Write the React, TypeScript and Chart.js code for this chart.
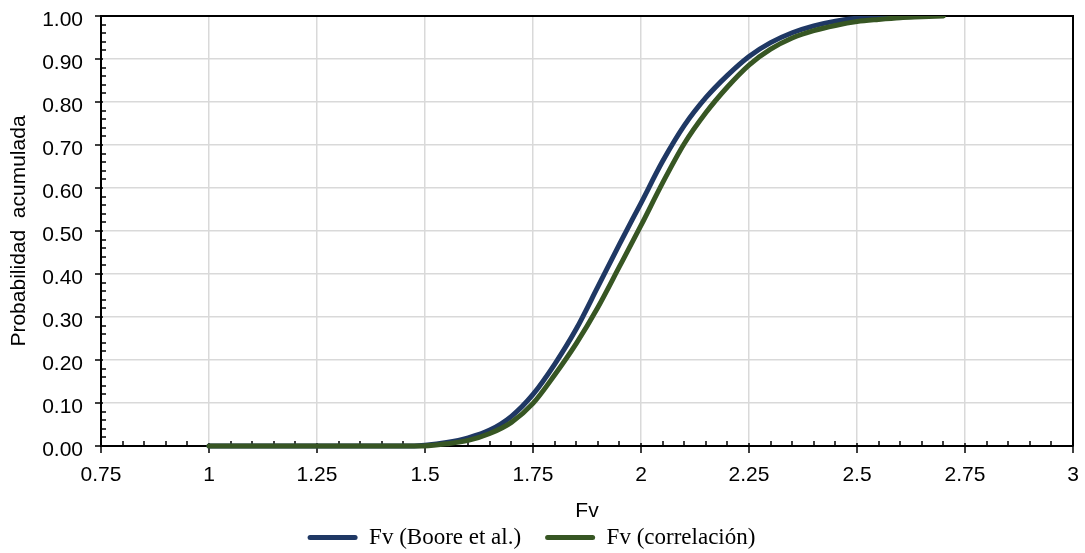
import React, { useEffect, useRef } from 'react';
import { Chart, registerables } from 'chart.js';

Chart.register(...registerables);

// ---- Data ----
const fvBoore = [1.0, 1.45, 1.5, 1.55, 1.6, 1.65, 1.7, 1.75, 1.8, 1.85, 1.9, 1.95, 2.0, 2.05, 2.1, 2.15, 2.2, 2.25, 2.3, 2.35, 2.4, 2.45, 2.5, 2.55, 2.58];
const probBoore = [0, 0, 0.002, 0.008, 0.019, 0.037, 0.069, 0.12, 0.19, 0.272, 0.37, 0.469, 0.565, 0.662, 0.745, 0.81, 0.862, 0.906, 0.938, 0.961, 0.977, 0.988, 0.995, 0.999, 1.0];

const fvCorrel = [1.0, 1.48, 1.52, 1.55, 1.6, 1.65, 1.7, 1.75, 1.8, 1.85, 1.9, 1.95, 2.0, 2.05, 2.1, 2.15, 2.2, 2.25, 2.3, 2.35, 2.4, 2.45, 2.5, 2.55, 2.6, 2.65, 2.7];
const probCorrel = [0, 0, 0.002, 0.005, 0.013, 0.029, 0.055, 0.099, 0.165, 0.238, 0.322, 0.417, 0.513, 0.612, 0.703, 0.775, 0.835, 0.886, 0.923, 0.949, 0.966, 0.978, 0.987, 0.992, 0.996, 0.998, 1.0];

const seriesLabels = ['Fv (Boore et al.)', 'Fv (correlación)'];

const xTickValues = [0.75, 1, 1.25, 1.5, 1.75, 2, 2.25, 2.5, 2.75, 3];
const xTickLabels = ['0.75', '1', '1.25', '1.5', '1.75', '2', '2.25', '2.5', '2.75', '3'];
const yTickValues = [0, 0.1, 0.2, 0.3, 0.4, 0.5, 0.6, 0.7, 0.8, 0.9, 1.0];
const yTickLabels = ['0.00', '0.10', '0.20', '0.30', '0.40', '0.50', '0.60', '0.70', '0.80', '0.90', '1.00'];

const xTitle = 'Fv';
const yTitle = 'Probabilidad  acumulada';

// ---- Styles ----
const SANS = "'Liberation Sans', Arial, sans-serif";
const SERIF = "'Liberation Serif', 'Times New Roman', serif";
const BLUE = '#1F3864';
const GREEN = '#375623';
const LEGEND_DX = -5;
const LEGEND_DY = 6;

const decorPlugin = {
  id: 'decor',
  afterLayout(chart: any) {
    const lg = chart.legend;
    if (lg) {
      lg.left += LEGEND_DX;
      lg.right += LEGEND_DX;
      lg.top += LEGEND_DY;
      lg.bottom += LEGEND_DY;
    }
  },
  beforeDatasetsDraw(chart: any) {
    const { ctx, chartArea: a, scales } = chart;
    const x = scales.x;
    const y = scales.y;
    ctx.save();
    ctx.strokeStyle = '#000';
    ctx.lineWidth = 1.5;
    ctx.beginPath();
    for (let i = 0; i <= 45; i++) {
      const px = Math.round(x.getPixelForValue(0.75 + i * 0.05));
      if (i % 5 === 0) {
        ctx.moveTo(px, a.bottom - 3);
        ctx.lineTo(px, a.bottom + 7);
      } else {
        ctx.moveTo(px, a.bottom - 5);
        ctx.lineTo(px, a.bottom);
      }
    }
    for (let i = 0; i <= 50; i++) {
      const py = Math.round(y.getPixelForValue(i * 0.02));
      if (i % 5 === 0) {
        ctx.moveTo(a.left - 6, py);
        ctx.lineTo(a.left + 2, py);
      } else {
        ctx.moveTo(a.left, py);
        ctx.lineTo(a.left + 5, py);
      }
    }
    ctx.stroke();
    ctx.lineWidth = 2;
    ctx.beginPath();
    ctx.moveTo(a.left, a.top);
    ctx.lineTo(a.right, a.top);
    ctx.lineTo(a.right, a.bottom);
    ctx.stroke();
    ctx.restore();
  },
};

export default function App() {
  const ref = useRef<HTMLCanvasElement>(null);

  useEffect(() => {
    document.body.style.margin = '0';
    const canvas = ref.current;
    if (!canvas) return;

    const lineStyle = {
      borderWidth: 5,
      pointRadius: 0,
      borderCapStyle: 'round',
      borderJoinStyle: 'round',
      cubicInterpolationMode: 'monotone',
      clip: { left: 5, top: 0, right: 5, bottom: 5 },
    };

    const chart = new Chart(canvas, {
      type: 'line',
      data: {
        datasets: [
          {
            label: seriesLabels[0],
            data: fvBoore.map((v, i) => ({ x: v, y: probBoore[i] })),
            borderColor: BLUE,
            backgroundColor: BLUE,
            order: 1,
            ...lineStyle,
          },
          {
            label: seriesLabels[1],
            data: fvCorrel.map((v, i) => ({ x: v, y: probCorrel[i] })),
            borderColor: GREEN,
            backgroundColor: GREEN,
            order: 0,
            ...lineStyle,
          },
        ],
      },
      options: {
        animation: false,
        responsive: false,
        maintainAspectRatio: false,
        layout: { padding: { left: 0, right: 12, top: 16, bottom: 0 } },
        plugins: {
          tooltip: { enabled: false },
          legend: {
            position: 'bottom',
            labels: {
              color: '#000',
              font: { family: SERIF, size: 23 },
              boxWidth: 50,
              boxHeight: 5,
              padding: 24,
              useBorderRadius: true,
              borderRadius: 2.5,
              generateLabels: (c: any) =>
                (Chart.defaults.plugins.legend.labels.generateLabels as any)(c).map((l: any) => ({ ...l, lineWidth: 0 })),
              sort: (a: any, b: any) => a.datasetIndex - b.datasetIndex,
            },
          },
        },
        scales: {
          x: {
            type: 'linear',
            min: 0.75,
            max: 3,
            afterBuildTicks: (s: any) => {
              s.ticks = xTickValues.map((v) => ({ value: v }));
            },
            afterFit: (s: any) => {
              s.height = 50;
            },
            ticks: {
              autoSkip: false,
              maxRotation: 0,
              padding: 0,
              color: '#000',
              font: { family: SANS, size: 21 },
              callback: (_v: any, i: number) => xTickLabels[i],
            },
            grid: { color: '#d9d9d9', lineWidth: 1.5, drawTicks: true, tickLength: 17, tickColor: 'rgba(0,0,0,0)' },
            border: { color: '#000', width: 2 },
            title: {
              display: true,
              text: xTitle,
              color: '#000',
              font: { family: SANS, size: 21 },
              padding: { top: 0, bottom: -28 },
            },
          },
          y: {
            type: 'linear',
            min: 0,
            max: 1,
            afterBuildTicks: (s: any) => {
              s.ticks = yTickValues.map((v) => ({ value: v }));
            },
            afterFit: (s: any) => {
              s.width = 101;
            },
            ticks: {
              autoSkip: false,
              padding: 0,
              labelOffset: 4,
              color: '#000',
              font: { family: SANS, size: 21 },
              callback: (_v: any, i: number) => yTickLabels[i],
            },
            grid: { color: '#d9d9d9', lineWidth: 1.5, drawTicks: true, tickLength: 18, tickColor: 'rgba(0,0,0,0)' },
            border: { color: '#000', width: 2 },
            title: {
              display: true,
              text: yTitle,
              color: '#000',
              font: { family: SANS, size: 21 },
              padding: { top: 7, bottom: 0 },
            },
          },
        },
      },
      plugins: [decorPlugin],
    } as any);

    return () => chart.destroy();
  }, []);

  return (
    <div style={{ width: 1085, height: 553, position: 'relative' }}>
      <canvas ref={ref} width={1085} height={553} style={{ display: 'block' }} />
    </div>
  );
}
